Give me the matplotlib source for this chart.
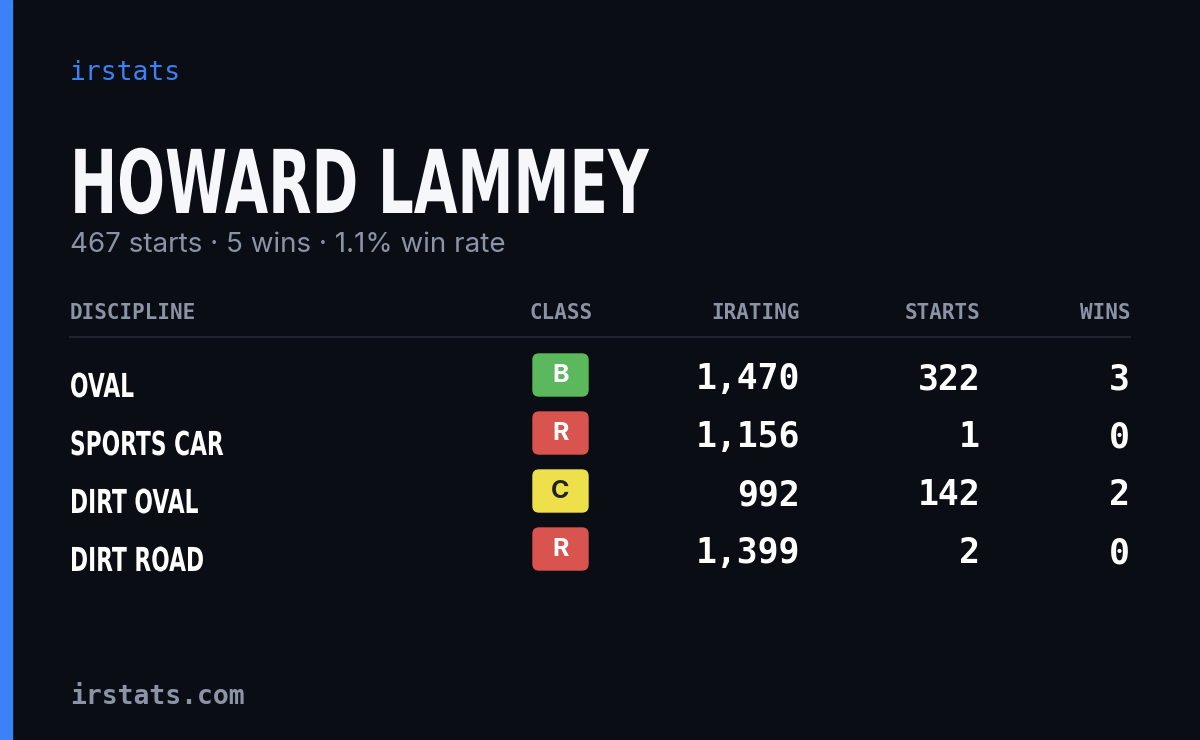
import matplotlib
matplotlib.use("Agg")
import matplotlib.pyplot as plt
from matplotlib.patches import Rectangle, FancyBboxPatch, PathPatch
from matplotlib.textpath import TextPath
from matplotlib.font_manager import FontProperties
from matplotlib.transforms import Affine2D

brand = "irstats"
site = "irstats.com"
name = "HOWARD LAMMEY"
summary = "467 starts · 5 wins · 1.1% win rate"
headers = ["DISCIPLINE", "CLASS", "IRATING", "STARTS", "WINS"]
disciplines = ["OVAL", "SPORTS CAR", "DIRT OVAL", "DIRT ROAD"]
classes = ["B", "R", "C", "R"]
iratings = [1470, 1156, 992, 1399]
starts = [322, 1, 142, 2]
wins = [3, 0, 2, 0]
class_colors = {"B": "#5cb85c", "R": "#d9534f", "C": "#ede04a"}
class_text = {"B": "white", "R": "white", "C": "#222222"}

W, H = 1200, 740
fig = plt.figure(figsize=(12, 7.4), dpi=100)
fig.patch.set_facecolor("#0a0d14")
ax = fig.add_axes([0, 0, 1, 1])
ax.set_xlim(0, W); ax.set_ylim(H, 0); ax.axis("off")
ax.add_patch(Rectangle((0, 0), 12, H, color="#3b82f6"))

bold = FontProperties(family="DejaVu Sans", weight="bold")

def narrow(x, ybase, s, size_px, xscale, color):
    tp = TextPath((0, 0), s, size=size_px, prop=bold)
    tr = Affine2D().scale(xscale, -1).translate(x, ybase)
    ax.add_patch(PathPatch(tr.transform_path(tp), color=color, lw=0))

mono = "DejaVu Sans Mono"
ax.text(70, 73, brand, color="#3b82f6", fontsize=19, family=mono, va="center")
narrow(70, 213, name, 88, 0.64, "#f5f7fa")
ax.text(70, 245, summary, color="#8a94a6", fontsize=20, family="Inter", va="center")

hx = [70, 593, 800, 980, 1130]
ha = ["left", "right", "right", "right", "right"]
for x, h, a in zip(hx, headers, ha):
    ax.text(x, 313, h, color="#8a94a6", fontsize=15, family=mono, ha=a, va="center",
            fontweight="bold")
ax.plot([70, 1130], [337, 337], color="#1f2430", lw=1.5)

for i, d in enumerate(disciplines):
    y = 379 + i * 58
    narrow(70, y + 18, d, 33, 0.66, "white")
    c = classes[i]
    ax.add_patch(FancyBboxPatch((533, y - 25), 55, 42, boxstyle="round,pad=0,rounding_size=6",
                                color=class_colors[c]))
    ax.text(560.5, y - 4, c, color=class_text[c], fontsize=18, fontweight="bold",
            family="Inter", ha="center", va="center")
    for x, v in zip([800, 980, 1130], [f"{iratings[i]:,}", str(starts[i]), str(wins[i])]):
        ax.text(x, y, v, color="white", fontsize=25, family=mono, ha="right", va="center",
                fontweight="bold")

ax.text(70, 697, site, color="#8a94a6", fontsize=19, family=mono, va="center", fontweight="bold")
fig.savefig("out.png", dpi=100, facecolor=fig.get_facecolor())
